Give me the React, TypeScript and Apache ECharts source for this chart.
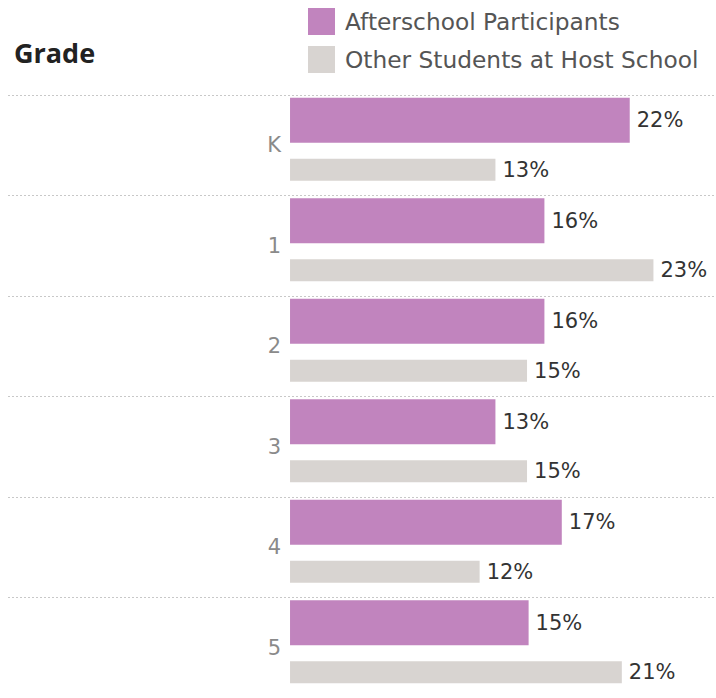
import React, { useEffect, useRef } from "react";
import * as echarts from "echarts";

const grades = ["K", "1", "2", "3", "4", "5"];
const afterschool = [21.5, 16.1, 16.1, 13.0, 17.2, 15.1];
const otherStudents = [13.0, 23.0, 15.0, 15.0, 12.0, 21.0];
const seriesNames = ["Afterschool Participants", "Other Students at Host School"];

const FONT = "'DejaVu Sans', sans-serif";
const BOLD_FONT = "'Open Sans', sans-serif";

export default function App() {
  const ref = useRef<HTMLDivElement>(null);
  useEffect(() => {
    if (!ref.current) return;
    const chart = echarts.init(ref.current, null, { renderer: "svg" });
    const fmt = (p: any) => Math.round(p.value) + "%";
    const valueLabel = {
      show: true,
      position: "right",
      distance: 7,
      formatter: fmt,
      fontFamily: FONT,
      fontSize: 21,
      color: "#333",
    };
    chart.setOption({
      animation: false,
      backgroundColor: "#ffffff",
      title: {
        text: "Grade",
        left: 9,
        top: 34,
        textStyle: { fontFamily: BOLD_FONT, fontSize: 27, fontWeight: "bold", color: "#222" },
      },
      legend: {
        data: seriesNames,
        orient: "vertical",
        left: 308,
        top: 8,
        padding: 0,
        itemWidth: 27,
        itemHeight: 27,
        itemGap: 11,
        icon: "rect",
        selectedMode: false,
        textStyle: { fontFamily: FONT, fontSize: 23.3, color: "#555", padding: [0, 0, 0, 5] },
      },
      grid: { left: 8, right: 0, top: 95, height: 605, containLabel: false },
      xAxis: {
        type: "value",
        min: -17.85,
        max: 26.96,
        show: false,
      },
      yAxis: {
        type: "category",
        data: grades,
        inverse: true,
        offset: -281,
        axisLine: { show: false },
        axisTick: { show: false },
        axisLabel: { fontFamily: FONT, fontSize: 21, color: "#8a8a8a", margin: 8 },
        splitLine: { show: true, lineStyle: { type: [2, 2], color: "#c8c8c8", width: 1 } },
      },
      series: [
        {
          name: seriesNames[0],
          type: "bar",
          data: afterschool,
          barWidth: 45,
          barGap: "35.5%",
          itemStyle: { color: "#C184BE" },
          label: valueLabel,
        },
        {
          name: seriesNames[1],
          type: "bar",
          data: otherStudents,
          barWidth: 22,
          barGap: "35.5%",
          itemStyle: { color: "#D8D4D1" },
          label: valueLabel,
        },
        {
          name: "spacer",
          type: "bar",
          data: grades.map(() => "-"),
          barWidth: 4,
          barGap: "35.5%",
          silent: true,
        },
      ],
    });
    return () => chart.dispose();
  }, []);
  return <div ref={ref} style={{ position: "fixed", left: 0, top: 0, width: 716, height: 698 }} />;
}
